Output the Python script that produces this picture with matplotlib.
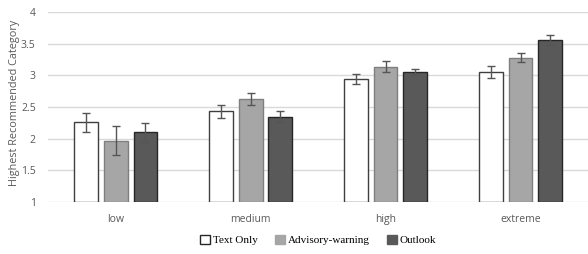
import matplotlib
matplotlib.use("Agg")
import matplotlib.pyplot as plt
import numpy as np

# --- data ---
categories = ["low", "medium", "high", "extreme"]
series = ["Text Only", "Advisory-warning", "Outlook"]
text_only = [2.26, 2.43, 2.94, 3.06]
advisory = [1.97, 2.62, 3.14, 3.28]
outlook = [2.10, 2.35, 3.05, 3.56]
err_text = [0.15, 0.11, 0.08, 0.095]
err_adv = [0.23, 0.095, 0.085, 0.07]
err_out = [0.15, 0.09, 0.05, 0.085]

colors = ["#ffffff", "#a6a6a6", "#595959"]
edges = ["#3f3f3f", "#7f7f7f", "#262626"]

fig = plt.figure(figsize=(5.88, 2.54), dpi=100)
ax = fig.add_axes([0.082, 0.205, 0.918, 0.747])

x = np.arange(len(categories))
width = 0.176
step = 0.22
values = [text_only, advisory, outlook]
errors = [err_text, err_adv, err_out]

for i, (vals, errs) in enumerate(zip(values, errors)):
    ax.bar(x + (i - 1) * step, np.array(vals) - 1, width, bottom=1,
           color=colors[i], edgecolor=edges[i], linewidth=1.0,
           label=series[i], zorder=3)
    ax.errorbar(x + (i - 1) * step, vals, yerr=errs, fmt="none",
                ecolor="#555555", elinewidth=1.0, capsize=3, capthick=1.0,
                zorder=4)

ax.set_xlim(-0.5, 3.5)
ax.set_ylim(1, 4)
ax.set_yticks([1, 1.5, 2, 2.5, 3, 3.5, 4])
ax.set_yticklabels(["1", "1.5", "2", "2.5", "3", "3.5", "4"])
ax.set_xticks(x)
ax.set_xticklabels(categories)
ax.grid(axis="y", color="#d9d9d9", linewidth=1.0, zorder=0)
for s in ax.spines.values():
    s.set_visible(False)
ax.tick_params(axis="both", length=0, labelsize=7.5, labelcolor="#595959")
ax.tick_params(axis="x", pad=9)
ax.tick_params(axis="y", pad=9)
for lbl in ax.get_xticklabels() + ax.get_yticklabels():
    lbl.set_family("Open Sans")

ax.set_ylabel("Highest Recommended Category", fontsize=7.8, color="#595959",
              family="Open Sans")
ax.yaxis.set_label_coords(-0.052, 0.52)

leg = ax.legend(loc="upper center", bbox_to_anchor=(0.5, -0.12), ncol=3,
                frameon=False, prop={"family": "Liberation Serif", "size": 8},
                handlelength=0.9, handleheight=0.9, handletextpad=0.3,
                columnspacing=1.5)
for h, ec in zip(leg.legend_handles, ["#262626", "#a6a6a6", "#595959"]):
    h.set_edgecolor(ec)

fig.savefig("out.png", dpi=100)
